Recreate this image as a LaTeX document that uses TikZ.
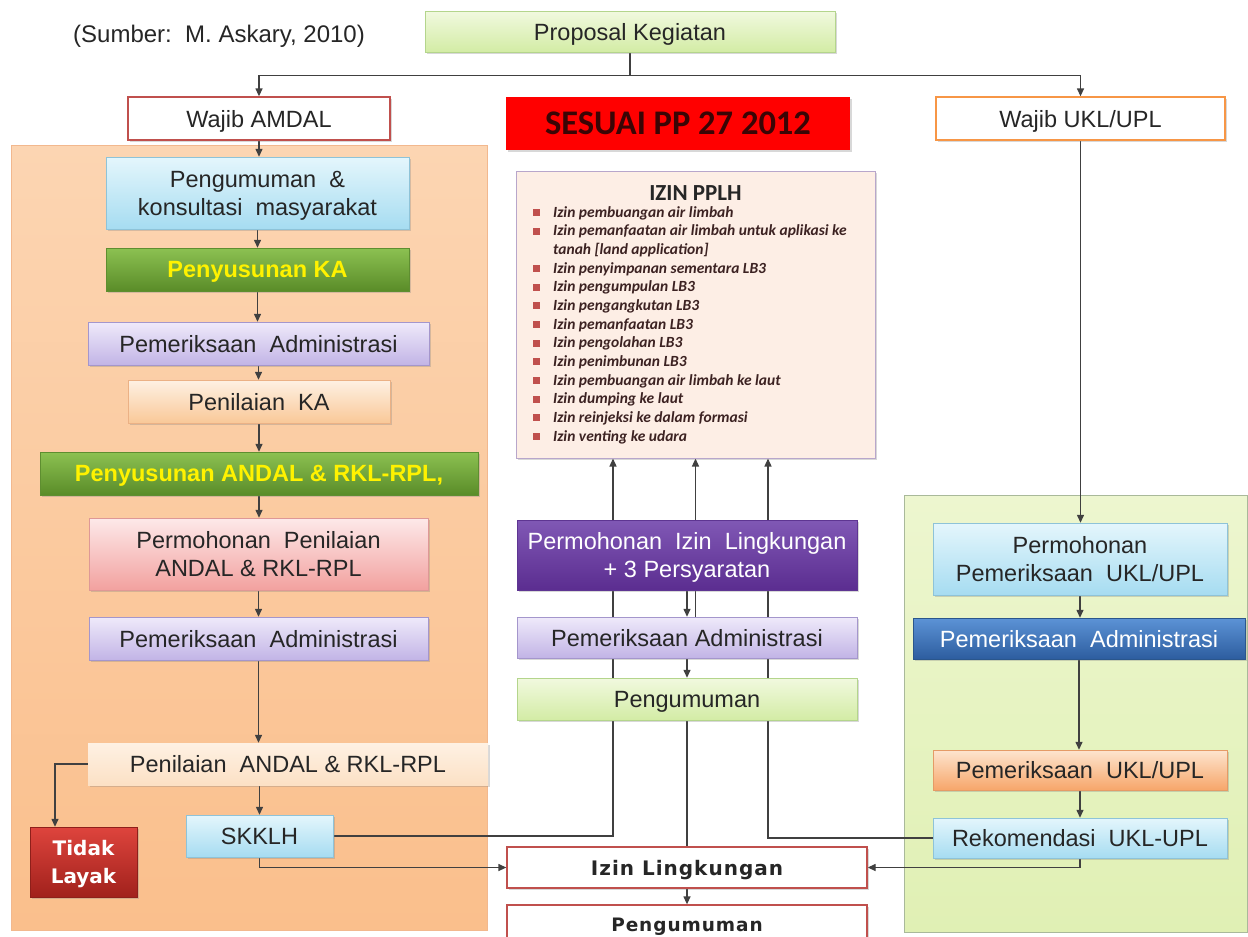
\documentclass[tikz,border=0pt]{standalone}
\usepackage{fontspec}
\setmainfont{Liberation Sans}
\newfontfamily\calib{Carlito}
\newfontfamily\verd{DejaVu Sans}
\newfontfamily\verdsp[LetterSpace=5]{DejaVu Sans}
\usetikzlibrary{arrows.meta,shadows}

\pgfdeclarelayer{bg}
\pgfdeclarelayer{wires}
\pgfsetlayers{bg,wires,main}

\definecolor{txtdark}{HTML}{262626}
\definecolor{grn1}{HTML}{F1F9DF}\definecolor{grn2}{HTML}{D3ECA5}\definecolor{grnedge}{HTML}{B4D58C}
\definecolor{blu1}{HTML}{E4F6FC}\definecolor{blu2}{HTML}{A6DCF1}\definecolor{bluedge}{HTML}{8EC3D8}
\definecolor{dgr1}{HTML}{8CC152}\definecolor{dgr2}{HTML}{5A8C28}\definecolor{dgredge}{HTML}{5E8E30}
\definecolor{lav1}{HTML}{EFEAFA}\definecolor{lav2}{HTML}{C2B4E6}\definecolor{lavedge}{HTML}{A496CC}
\definecolor{pch1}{HTML}{FEF1E3}\definecolor{pch2}{HTML}{F9C898}\definecolor{pchedge}{HTML}{EBB185}
\definecolor{pnk1}{HTML}{FDE9E9}\definecolor{pnk2}{HTML}{F2A19F}\definecolor{pnkedge}{HTML}{DE9896}
\definecolor{pur1}{HTML}{8058B5}\definecolor{pur2}{HTML}{5B2D90}\definecolor{puredge}{HTML}{5E3592}
\definecolor{dbl1}{HTML}{5C93D6}\definecolor{dbl2}{HTML}{2D5D9F}\definecolor{dbledge}{HTML}{2A568C}
\definecolor{orn1}{HTML}{FDE5CF}\definecolor{orn2}{HTML}{F7A66A}\definecolor{ornedge}{HTML}{E59B66}
\definecolor{red1}{HTML}{DE443D}\definecolor{red2}{HTML}{A1211C}\definecolor{rededge}{HTML}{8E1F1A}
\definecolor{redline}{HTML}{C0504D}\definecolor{orgline}{HTML}{F79646}
\definecolor{org1}{HTML}{FCD5B2}\definecolor{org2}{HTML}{FABF8C}\definecolor{orgedge}{HTML}{F2B88E}
\definecolor{lg1}{HTML}{EDF6CF}\definecolor{lg2}{HTML}{E0F0B4}\definecolor{lgedge}{HTML}{A9B99A}
\definecolor{pplhfill}{HTML}{FDEEE5}\definecolor{pplhedge}{HTML}{B8A6CB}
\definecolor{bulred}{HTML}{C0504D}\definecolor{wirecol}{HTML}{404040}
\definecolor{ppred}{HTML}{FF0000}\definecolor{pptxt}{HTML}{3A0505}

\tikzset{
  base/.style={rectangle, draw, align=center, inner sep=2pt, text=txtdark, text depth=0pt,
    font=\fontsize{23.5}{28}\selectfont,
    drop shadow={shadow xshift=1.5pt, shadow yshift=-1.5pt, opacity=0.3, fill=black!50}},
  sz/.style 2 args={minimum width=#1pt, minimum height=#2pt},
  lightgreen/.style={base, draw=grnedge, top color=grn1, bottom color=grn2},
  lightblue/.style={base, draw=bluedge, top color=blu1, bottom color=blu2},
  darkgreen/.style={base, draw=dgredge, top color=dgr1, bottom color=dgr2,
    text=yellow, font=\fontsize{23.5}{28}\selectfont\bfseries},
  lavender/.style={base, draw=lavedge, top color=lav1, bottom color=lav2},
  peach/.style={base, draw=pchedge, top color=pch1, bottom color=pch2},
  pinkbox/.style={base, draw=pnkedge, top color=pnk1, bottom color=pnk2},
  purplebox/.style={base, draw=puredge, top color=pur1, bottom color=pur2, text=white},
  darkblue/.style={base, draw=dbledge, top color=dbl1, bottom color=dbl2, text=white},
  orangebox/.style={base, draw=ornedge, top color=orn1, bottom color=orn2},
  redbox/.style={base, draw=rededge, top color=red1, bottom color=red2, text=white,
    font=\verd\bfseries\fontsize{20}{28}\selectfont},
  whitebox/.style={base, fill=white, line width=1.3pt},
  izinbox/.style={whitebox, draw=redline, font=\verdsp\bfseries\fontsize{20}{24}\selectfont},
  ppbox/.style={base, draw=none, fill=ppred, text=pptxt,
    font=\calib\bfseries\fontsize{34.5}{38}\selectfont},
  pplhbox/.style={base, draw=pplhedge, fill=pplhfill, line width=1pt},
  wire/.style={draw=wirecol, line width=1.3pt},
  arr/.style={-{Triangle[length=8pt,width=7pt]}},
}
\newcommand{\pbul}{\makebox[22pt][l]{\hspace{2pt}\textcolor{bulred}{\rule[1pt]{7pt}{7pt}}}}

\begin{document}
\begin{tikzpicture}[x=1pt,y=1pt,yscale=-1]
\useasboundingbox (0,0) rectangle (1248,937);
\begin{pgfonlayer}{bg}
  \fill[white] (0,0) rectangle (1248,937);
  \draw[draw=orgedge, top color=org1, bottom color=org2] (11,145) rectangle (487,930);
  \draw[draw=lgedge, line width=1pt, top color=lg1, bottom color=lg2] (904,495) rectangle (1247,932);
\end{pgfonlayer}

% top row
\node[text=txtdark, font=\fontsize{24}{28}\selectfont] (src) at (219,36) {(Sumber:\ \ M. Askary, 2010)};
\node[lightgreen, sz={410}{41}] (prop) at (630,31.5) {Proposal Kegiatan};
\node[whitebox, draw=redline, sz={262}{43}] (wamdal) at (259,118.5) {Wajib AMDAL};
\node[ppbox, sz={344}{53}] (sesuai) at (678,123.5) {SESUAI PP 27 2012};
\node[whitebox, draw=orgline, sz={289}{43}] (wukl) at (1080.5,118.5) {Wajib UKL/UPL};

% AMDAL column
\node[lightblue, sz={303}{72}] (pkm) at (257.5,193) {Pengumuman \ \&\\konsultasi \ masyarakat};
\node[darkgreen, sz={303}{43}] (pka) at (257.5,269.5) {Penyusunan KA};
\node[lavender, sz={341}{43}] (padm1) at (258.5,343.5) {Pemeriksaan \ Administrasi};
\node[peach, sz={262}{43}] (pnka) at (259,401.5) {Penilaian \ KA};
\node[darkgreen, sz={438}{43}] (pandal) at (259,473.5) {Penyusunan ANDAL \& RKL-RPL,};
\node[pinkbox, sz={339}{72}] (pmpn) at (258.5,554) {Permohonan \ Penilaian\\ANDAL \& RKL-RPL};
\node[lavender, sz={339}{43}] (padm2) at (258.5,638.5) {Pemeriksaan \ Administrasi};
\node[peach, draw=none, top color=pch1, bottom color=pch1!60!pch2, sz={400}{42}] (pnandal) at (288,764) {Penilaian \ ANDAL \& RKL-RPL};
\node[lightblue, sz={147}{42}] (skklh) at (259.5,836) {SKKLH};
\node[redbox, sz={107}{70}] (tidak) at (83.5,862) {Tidak\\Layak};

% PPLH and middle column
\node[pplhbox, sz={359}{287}] (pplh) at (695.5,314.5) {};
\node[text=txtdark, font=\calib\bfseries\fontsize{23}{26}\selectfont] (pplht) at (695.5,193) {IZIN PPLH};
\node[anchor=north west, align=left, inner sep=0pt, text=txtdark!90!red,
  font=\calib\bfseries\itshape\fontsize{15.5}{18.67}\selectfont] (pplhl) at (531,206) {%
  \pbul Izin pembuangan air limbah\\
  \pbul Izin pemanfaatan air limbah untuk aplikasi ke\\
  \hspace{22pt}tanah [land application]\\
  \pbul Izin penyimpanan sementara LB3\\
  \pbul Izin pengumpulan LB3\\
  \pbul Izin pengangkutan LB3\\
  \pbul Izin pemanfaatan LB3\\
  \pbul Izin pengolahan LB3\\
  \pbul Izin penimbunan LB3\\
  \pbul Izin pembuangan air limbah ke laut\\
  \pbul Izin dumping ke laut\\
  \pbul Izin reinjeksi ke dalam formasi\\
  \pbul Izin venting ke udara};
\node[purplebox, sz={340}{70}] (pil) at (687,555) {Permohonan \ Izin \ Lingkungan\\+ 3 Persyaratan};
\node[lavender, sz={340}{41}] (padm3) at (687,637.5) {Pemeriksaan Administrasi};
\node[lightgreen, sz={340}{42}] (peng) at (687,699) {Pengumuman};
\node[izinbox, sz={360}{41}] (izin) at (687,867.5) {Izin Lingkungan};
\begin{scope}
  \clip (0,0) rectangle (1248,937);
  \node[izinbox, sz={360}{40}, font=\verdsp\bfseries\fontsize{18.5}{24}\selectfont] (peng2) at (687,925) {Pengumuman};
\end{scope}

% UKL/UPL column
\node[lightblue, sz={294}{72}] (ppukl) at (1080,559) {Permohonan\\Pemeriksaan \ UKL/UPL};
\node[darkblue, sz={332}{41}] (padm4) at (1079,638.5) {Pemeriksaan \ Administrasi};
\node[orangebox, sz={294}{40}] (pmukl) at (1080,770) {Pemeriksaan \ UKL/UPL};
\node[lightblue, sz={294}{40}] (rekom) at (1080,838) {Rekomendasi \ UKL-UPL};

\begin{pgfonlayer}{wires}
\draw[wire] (prop.south) -- ++(0,23.5) coordinate (split);
\draw[wire,arr] (split) -| (wamdal.north);
\draw[wire,arr] (split) -| (wukl.north);
\foreach \a/\b in {wamdal/pkm, pkm/pka, pka/padm1, padm1/pnka, pnka/pandal, pandal/pmpn, pmpn/padm2, padm2/pnandal}
  \draw[wire,arr] (\a.south) -- (\a.south |- \b.north);
\draw[wire,arr] (skklh.north |- pnandal.south) -- (skklh.north);
\draw[wire,arr] (pnandal.west) -| ([xshift=-28.5pt]tidak.north);
\draw[wire,arr] (skklh.east) -| ([xshift=-82.5pt]pplh.south);
\draw[wire,arr] (skklh.south) |- (izin.west);
\draw[wire,arr] (pil.south) -- (pil.south |- padm3.north);
\draw[wire,arr] (padm3.north -| pplh.south) -- (pplh.south);
\draw[wire,arr] (padm3.south) -- (peng.north);
\draw[wire] (peng.south) -- (izin.north);
\draw[wire,arr] (izin.south) -- (peng2.north);
\draw[wire,arr] (rekom.west) -| ([xshift=72.5pt]pplh.south);
\draw[wire,arr] (rekom.south) |- (izin.east);
\draw[wire,arr] (wukl.south) -- (wukl.south |- ppukl.north);
\foreach \a/\b in {ppukl/padm4, padm4/pmukl, pmukl/rekom}
  \draw[wire,arr] (\a.south) -- (\a.south |- \b.north);
\end{pgfonlayer}
\end{tikzpicture}
\end{document}
